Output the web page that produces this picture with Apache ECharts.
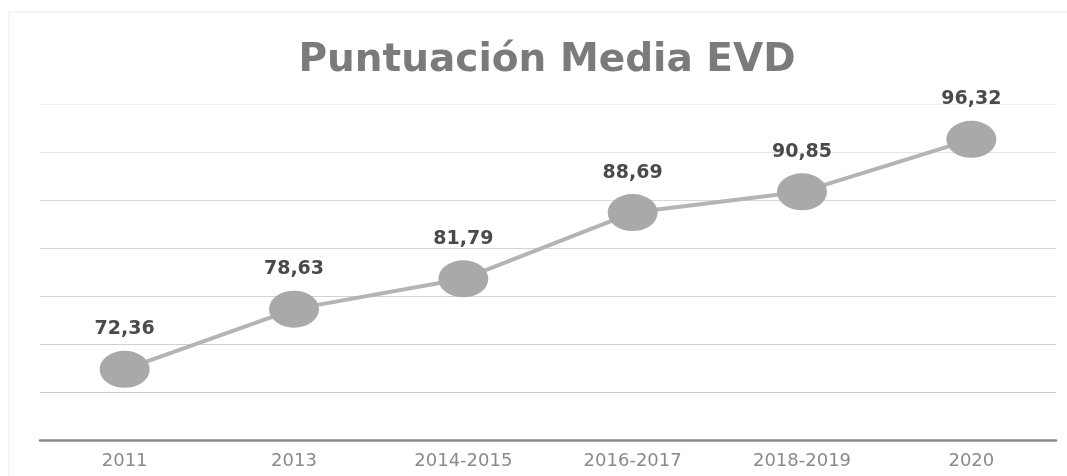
<!DOCTYPE html>
<html>
<head>
<meta charset="utf-8">
<title>Puntuación Media EVD</title>
<script src="https://cdn.jsdelivr.net/npm/echarts@6/dist/echarts.min.js"></script>
<style>
  html, body { margin: 0; padding: 0; background: #ffffff; }
  #chart { width: 1067px; height: 476px; }
</style>
</head>
<body>
<div id="chart"></div>
<script>
// Average EVD score per survey period
const periods = ['2011', '2013', '2014-2015', '2016-2017', '2018-2019', '2020'];
const scores = [72.36, 78.63, 81.79, 88.69, 90.85, 96.32];

// Value axis range (gridlines every 5 points)
const yMin = 65;
const yMax = 100;
const yStep = 5;

const chart = echarts.init(document.getElementById('chart'));

const fmt = v => v.toFixed(2).replace('.', ',');

chart.setOption({
  backgroundColor: '#ffffff',
  animation: false,
  title: {
    text: 'Puntuación Media EVD',
    left: 542,
    textAlign: 'center',
    top: 36,
    textStyle: {
      fontFamily: 'DejaVu Sans',
      fontWeight: 'bold',
      fontSize: 39,
      color: '#7b7b7b'
    }
  },
  graphic: [
    {
      type: 'polyline',
      silent: true,
      shape: { points: [[9, 476], [9, 12], [1067, 12]] },
      style: { stroke: '#ececec', lineWidth: 1, fill: null }
    }
  ],
  grid: { left: 40, right: 11, top: 104, bottom: 36 },
  xAxis: {
    type: 'category',
    data: periods,
    boundaryGap: true,
    axisLine: { show: true, lineStyle: { color: '#8a8a8a', width: 2.5 } },
    axisTick: { show: false },
    axisLabel: {
      margin: 12,
      color: '#8a8a8a',
      fontFamily: 'DejaVu Sans',
      fontSize: 18
    }
  },
  yAxis: {
    type: 'value',
    min: yMin,
    max: yMax,
    interval: yStep,
    axisLine: { show: false },
    axisTick: { show: false },
    axisLabel: { show: false },
    splitLine: {
      show: true,
      lineStyle: {
        width: 1,
        color: ['#cfcfcf', '#cbcbcb', '#d0d0d0', '#d2d2d2', '#d4d4d4', '#d8d8d8', '#e6e6e6', '#efefef']
      }
    }
  },
  series: [
    {
      type: 'line',
      data: scores,
      symbol: 'circle',
      symbolSize: [50, 37],
      lineStyle: { color: '#b4b4b4', width: 4 },
      itemStyle: { color: '#a9a9a9' },
      label: {
        show: true,
        position: 'top',
        distance: 12,
        formatter: p => fmt(p.value),
        color: '#4a4a4a',
        fontFamily: 'DejaVu Sans',
        fontWeight: 'bold',
        fontSize: 19
      },
      z: 3
    }
  ]
});
</script>
</body>
</html>
